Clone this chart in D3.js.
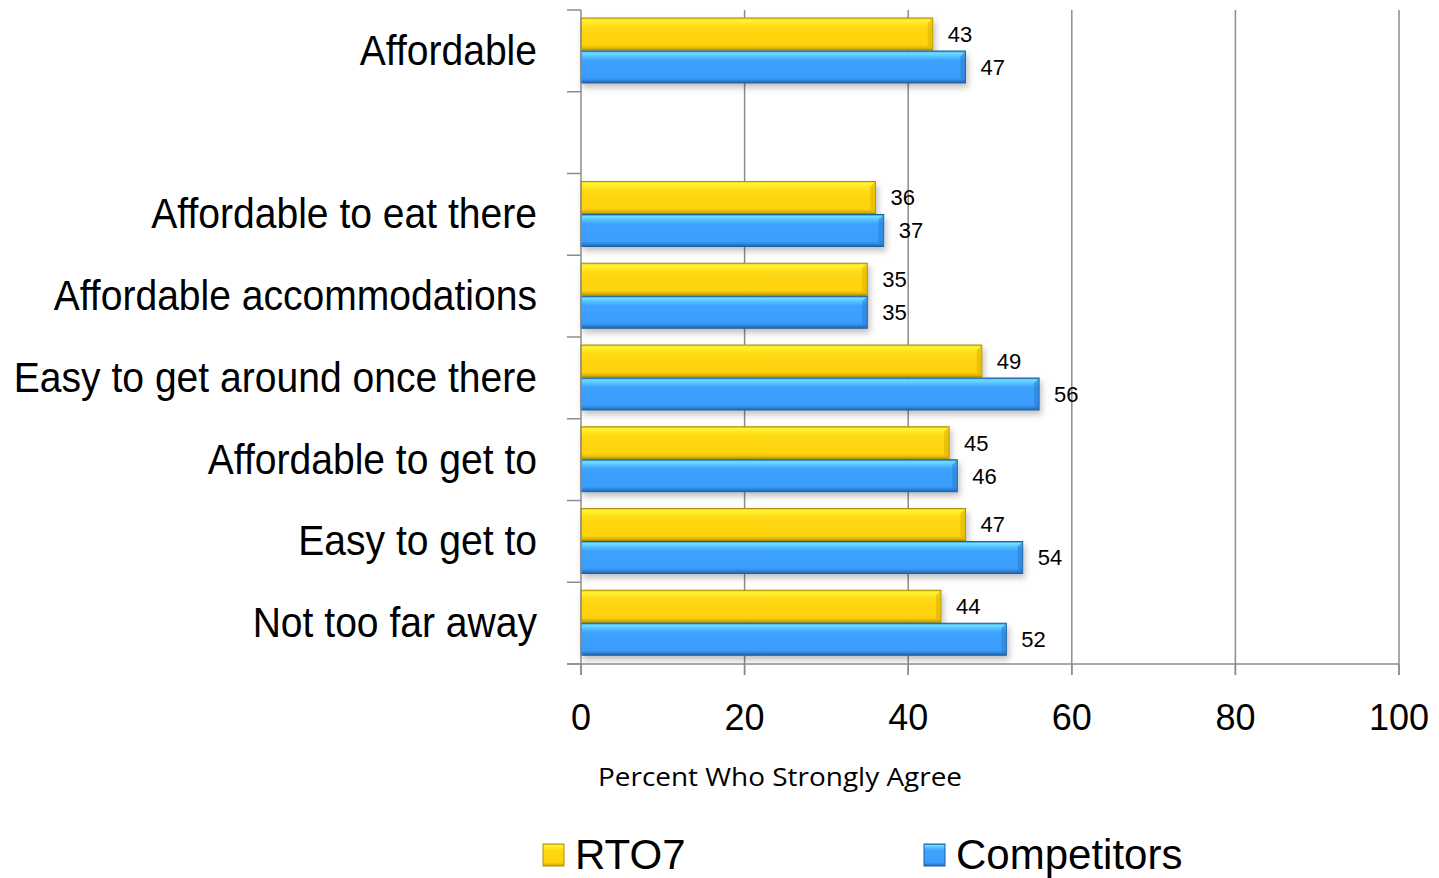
<!DOCTYPE html>
<html><head><meta charset="utf-8">
<script src="https://cdn.jsdelivr.net/npm/d3@7"></script>
<style>body{margin:0;background:#fff;}svg{display:block;}</style>
</head><body>
<svg id="c" width="1439" height="878"></svg>
<script>
const categories = ["Affordable", "", "Affordable to eat there", "Affordable accommodations", "Easy to get around once there", "Affordable to get to", "Easy to get to", "Not too far away"];
const seriesNames = ["RTO7", "Competitors"];
const rto7 = [43, null, 36, 35, 49, 45, 47, 44];
const competitors = [47, null, 37, 35, 56, 46, 54, 52];
const xTicks = [0, 20, 40, 60, 80, 100];
const axisTitle = "Percent Who Strongly Agree";

const svg = d3.select("#c");
const x = d3.scaleLinear().domain([0, 100]).range([581, 1399]);
const y = d3.scaleBand().domain(d3.range(categories.length)).range([10, 664]);
const ySub = d3.scaleBand().domain([0, 1]).range([8, 73]).paddingInner(0.03);

const defs = svg.append("defs");
function grad(id, stops) {
  const g = defs.append("linearGradient").attr("id", id).attr("x1", 0).attr("y1", 0).attr("x2", 0).attr("y2", 1);
  stops.forEach(s => g.append("stop").attr("offset", s[0]).attr("stop-color", s[1]));
}
grad("gy", [[0, "#e8c200"], [0.06, "#fff23a"], [0.2, "#ffe41a"], [0.3, "#ffd812"], [0.85, "#ffd210"], [1, "#c9a400"]]);
grad("gb", [[0, "#2a7fd0"], [0.06, "#6fe0ff"], [0.2, "#4cb8ff"], [0.3, "#3ea2ff"], [0.85, "#3a9cfb"], [1, "#2266b0"]]);
const f = defs.append("filter").attr("id", "sh").attr("x", "-5%").attr("y", "-20%").attr("width", "115%").attr("height", "160%");
f.append("feDropShadow").attr("dx", 2).attr("dy", 4).attr("stdDeviation", 3).attr("flood-color", "#000").attr("flood-opacity", 0.25);

// gridlines
svg.append("g").selectAll("line").data(xTicks.filter(d => d > 0)).join("line")
  .attr("x1", d => x(d)).attr("x2", d => x(d)).attr("y1", 10).attr("y2", 675)
  .attr("stroke", "#8c8c8c").attr("stroke-width", 1.5);

// bars
const edge = ["#b09000", "#1f5f9e"];
const series = [rto7, competitors];
const barG = svg.append("g");
series.forEach((vals, si) => {
  const data = vals.map((v, i) => ({v, i})).filter(d => d.v != null);
  const g = barG.append("g");
  g.selectAll("rect").data(data).join("rect")
    .attr("x", x(0)).attr("y", d => y(d.i) + ySub(si))
    .attr("width", d => x(d.v) - x(0)).attr("height", ySub.bandwidth())
    .attr("fill", si === 0 ? "url(#gy)" : "url(#gb)")
    .attr("stroke", edge[si]).attr("stroke-width", 1)
    .attr("filter", "url(#sh)");
  g.selectAll("path.bev").data(data).join("path")
    .attr("d", d => {
      const x1 = x(d.v), y0 = y(d.i) + ySub(si), h = ySub.bandwidth(), b = 5;
      return `M${x1},${y0} L${x1 - b},${y0 + b} L${x1 - b},${y0 + h - b} L${x1},${y0 + h} Z`;
    })
    .attr("fill", si === 0 ? "#d7b000" : "#2a7ccc").attr("opacity", 0.55);
  g.selectAll("text").data(data).join("text")
    .attr("x", d => x(d.v) + 15).attr("y", d => y(d.i) + ySub(si) + ySub.bandwidth() / 2 + 2)
    .attr("dominant-baseline", "middle")
    .attr("font-family", "Liberation Sans, Arial, sans-serif").attr("font-size", 22).attr("fill", "#000")
    .text(d => d.v);
});

// y axis
const yAxis = svg.append("g");
yAxis.append("line").attr("x1", 581).attr("x2", 581).attr("y1", 10).attr("y2", 675).attr("stroke", "#8c8c8c").attr("stroke-width", 1.5);
const bounds = d3.range(categories.length + 1).map(i => i < categories.length ? y(i) : y(categories.length - 1) + y.bandwidth());
yAxis.selectAll("line.t").data(bounds).join("line").attr("class", "t")
  .attr("x1", 567).attr("x2", 581).attr("y1", d => d).attr("y2", d => d)
  .attr("stroke", "#8c8c8c").attr("stroke-width", 1.5);
const catG = yAxis.selectAll("g.cat").data(categories.map((c, i) => ({c, i})).filter(d => d.c)).join("g")
  .attr("class", "cat")
  .attr("transform", d => `translate(537,${y(d.i) + y.bandwidth() / 2 + 3}) scale(0.93,1)`);
catG.append("text")
  .attr("text-anchor", "end").attr("dominant-baseline", "middle")
  .attr("font-family", "Liberation Sans, Arial, sans-serif").attr("font-size", 42)
  .attr("fill", "#000").text(d => d.c);

// x axis
const xAxis = svg.append("g");
xAxis.append("line").attr("x1", 567).attr("x2", 1399).attr("y1", 664).attr("y2", 664).attr("stroke", "#8c8c8c").attr("stroke-width", 1.5);
xAxis.selectAll("line.t").data(xTicks).join("line").attr("class", "t")
  .attr("x1", d => x(d)).attr("x2", d => x(d)).attr("y1", 664).attr("y2", 675)
  .attr("stroke", "#8c8c8c").attr("stroke-width", 1.5);
xAxis.selectAll("text").data(xTicks).join("text")
  .attr("x", d => x(d)).attr("y", 720).attr("text-anchor", "middle").attr("dominant-baseline", "middle")
  .attr("font-family", "Liberation Sans, Arial, sans-serif").attr("font-size", 36).attr("fill", "#000")
  .text(d => d);
svg.append("text").attr("x", 780).attr("y", 779).attr("text-anchor", "middle").attr("dominant-baseline", "middle")
  .attr("font-family", "Open Sans, sans-serif").attr("font-size", 25).attr("fill", "#000")
  .attr("textLength", 364).attr("lengthAdjust", "spacingAndGlyphs").text(axisTitle);

// legend
const legX = [543, 924];
const legG = svg.append("g");
seriesNames.forEach((n, i) => {
  legG.append("rect").attr("x", legX[i]).attr("y", 844).attr("width", 21).attr("height", 22)
    .attr("fill", i === 0 ? "url(#gy)" : "url(#gb)").attr("stroke", edge[i]).attr("stroke-width", 1);
  legG.append("text").attr("x", legX[i] + 32).attr("y", 858).attr("dominant-baseline", "middle")
    .attr("font-family", "Liberation Sans, Arial, sans-serif").attr("font-size", 42).attr("fill", "#000").text(n);
});
</script>
</body></html>
